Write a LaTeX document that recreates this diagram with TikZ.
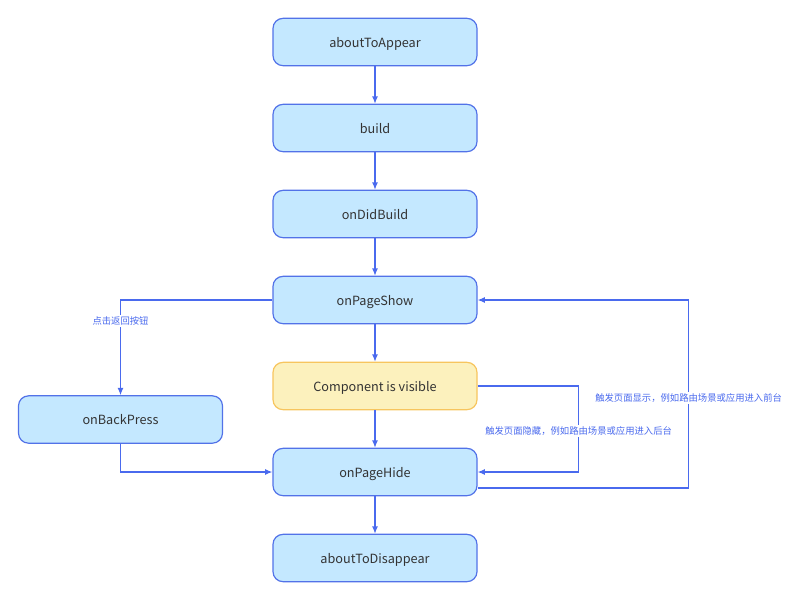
\documentclass[tikz,border=0pt]{standalone}
\usepackage{fontspec}
\setmainfont{Noto Sans CJK SC}
\usetikzlibrary{arrows.meta,calc}
\usetikzlibrary{positioning}

\definecolor{boxfill}{HTML}{C4E8FF}
\definecolor{boxline}{HTML}{5272E8}
\definecolor{visfill}{HTML}{FCF1BD}
\definecolor{visline}{HTML}{F7C55E}
\definecolor{linkblue}{HTML}{4A6AEE}
\definecolor{txtgray}{HTML}{333333}

\begin{document}
\begin{tikzpicture}[%
x={(0.75pt,0pt)},
y={(0pt,-0.75pt)},
stage/.style={rectangle,rounded corners=7.5pt,draw=boxline,fill=boxfill,line width=0.9pt,
  minimum width=153pt,minimum height=35.5pt,text=txtgray,text height=8.5pt,text depth=0.5pt,
  font=\fontsize{9.5}{11}\selectfont},
visible/.style={stage,draw=visline,fill=visfill},
link/.style={draw=linkblue,line width=0.9pt,-{Latex[length=5.5pt,width=4.5pt]}},
hint/.style={text=linkblue,fill=white,inner sep=1pt,font=\fontsize{7}{8}\selectfont},
]

\useasboundingbox (0,0) rectangle (800,600);

%Phasen
\node[stage](appear) at (375,42){aboutToAppear};
\node[stage](build) at (375,128){build};
\node[stage](didbuild) at (375,214){onDidBuild};
\node[stage](show) at (375,300){onPageShow};
\node[visible](comp) at (375,386){Component is visible};
\node[stage](hide) at (375,472){onPageHide};
\node[stage](disappear) at (375,558){aboutToDisappear};
\node[stage](back) at (120.5,419.5){onBackPress};

%Pfeile
\draw[link] (appear) -- (build);
\draw[link] (build) -- (didbuild);
\draw[link] (didbuild) -- (show);
\draw[link] (show) -- (comp);
\draw[link] (comp) -- (hide);
\draw[link] (hide) -- (disappear);

\draw[link] (show.west) -| node[hint,pos=0.61]{点击返回按钮} (back.north);
\draw[link] (back.south) |- (hide.west);

\draw[link] (comp.east) -- ++(101,0) |- node[hint,pos=0.26]{触发页面隐藏，例如路由场景或应用进入后台} (hide.east);
\coordinate (hideout) at ($(hide.east)+(0,16)$);
\draw[link] (hideout) -- ++(211,0) |- node[hint,pos=0.24]{触发页面显示，例如路由场景或应用进入前台} (show.east);

\end{tikzpicture}
\end{document}
